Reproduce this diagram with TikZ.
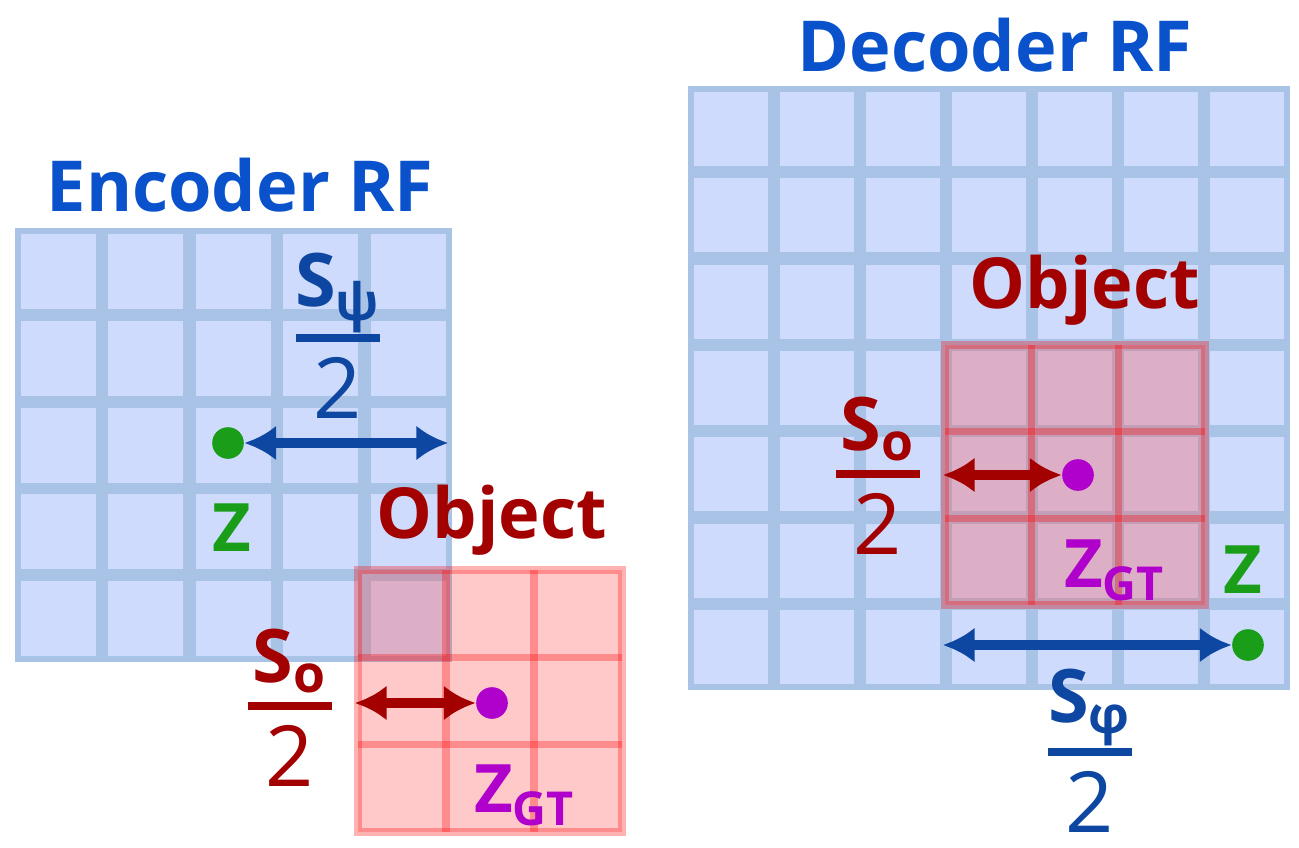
\documentclass[tikz,border=0pt]{standalone}
\usepackage{fontspec}
\setmainfont{Open Sans}
\usetikzlibrary{arrows.meta}
\definecolor{cellblue}{HTML}{CFDBFC}
\definecolor{lineblue}{HTML}{A9C3E6}
\definecolor{titleblue}{HTML}{0A52CC}
\definecolor{arrowblue}{HTML}{0D47A1}
\definecolor{objred}{HTML}{A30000}
\definecolor{zgreen}{HTML}{1A9E1A}
\definecolor{gtpurple}{HTML}{B000CC}
% fraction S_sub over 2: name, x, y of bar, subscript, colour
\newcommand{\halffrac}[5]{%
  \node [frac, text=#5] (#1num) at (#2,#3-45) {S\textsubscript{#4}};
  \fill [#5] (#2-42,#3-4) rectangle (#2+42,#3+4);
  \node [frac, text=#5, font=\fontsize{24}{28}\selectfont] (#1den) at (#2,#3+50) {2};}
\begin{document}
\begin{tikzpicture}[x=0.01cm,y=-0.01cm,
  title/.style={font=\bfseries\fontsize{20}{24}\selectfont},
  label/.style={font=\bfseries\fontsize{19}{22}\selectfont},
  frac/.style={font=\bfseries\fontsize{21}{24}\selectfont, inner sep=0pt},
  objline/.style={red, opacity=0.3, line width=2pt},
  dot/.style={circle, fill=#1, inner sep=0pt, minimum size=9pt},
  both/.style={{Latex[length=9pt,width=10pt]}-{Latex[length=9pt,width=10pt]}, line width=2.8pt}]
\useasboundingbox (0,0) rectangle (1299,848);

% ENCODER GRID
\fill [lineblue] (15,228) rectangle (452,662);
\foreach \i in {0,...,4}
  \foreach \j in {0,...,4}
    \fill [cellblue] (15+6+\i*87.4,228+6+\j*86.8) rectangle ++(75,75);

% DECODER GRID
\fill [lineblue] (688,86) rectangle (1290,690);
\foreach \i in {0,...,6}
  \foreach \j in {0,...,6}
    \fill [cellblue] (688+6+\i*86,86+6+\j*86.3) rectangle ++(74,74);

% OBJECTS
\fill [red!70, opacity=0.3] (358,570) rectangle (622,832);
\draw [objline] (358,570) rectangle (622,832);
\fill [red!70, opacity=0.3] (945,345) rectangle (1205,605);
\draw [objline] (945,345) rectangle (1205,605);
\foreach \k in {1,2} {
  \draw [objline] (358+\k*88,570) -- (358+\k*88,832);
  \draw [objline] (358,570+\k*87.3) -- (622,570+\k*87.3);
  \draw [objline] (945+\k*86.7,345) -- (945+\k*86.7,605);
  \draw [objline] (945,345+\k*86.7) -- (1205,345+\k*86.7);
}

% TITLES
\node [title, text=titleblue] (enctitle) at (240,185) {Encoder RF};
\node [title, text=titleblue] (dectitle) at (995,45) {Decoder RF};
\node [title, text=objred] (encobj) at (492,520) {Object};
\node [title, text=objred] (decobj) at (1085,290) {Object};

% ENCODER MARKS
\node [dot=zgreen] (encz) at (228,443) {};
\coordinate (encedge) at (448,443);
\draw [both, arrowblue] (encz) -- (encedge);
\node [label, text=zgreen] (enczlab) at (232,528) {Z};
\halffrac{encpsi}{338}{338}{ψ}{arrowblue}
\node [dot=gtpurple] (encgt) at (492,703) {};
\coordinate (encoleft) at (355,703);
\draw [both, objred] (encoleft) -- (encgt);
\halffrac{encso}{290}{706}{o}{objred}
\node [label, text=gtpurple] (encgtlab) at (525,795) {Z\textsubscript{GT}};

% DECODER MARKS
\node [dot=gtpurple] (decgt) at (1078,475) {};
\coordinate (decoleft) at (943,475);
\draw [both, objred] (decoleft) -- (decgt);
\halffrac{decso}{878}{474}{o}{objred}
\node [label, text=gtpurple] (decgtlab) at (1115,570) {Z\textsubscript{GT}};
\node [dot=zgreen] (decz) at (1248,645) {};
\coordinate (decleft) at (943,645);
\draw [both, arrowblue] (decleft) -- (decz);
\node [label, text=zgreen] (deczlab) at (1243,570) {Z};
\halffrac{decphi}{1090}{752}{φ}{arrowblue}
\end{tikzpicture}
\end{document}
